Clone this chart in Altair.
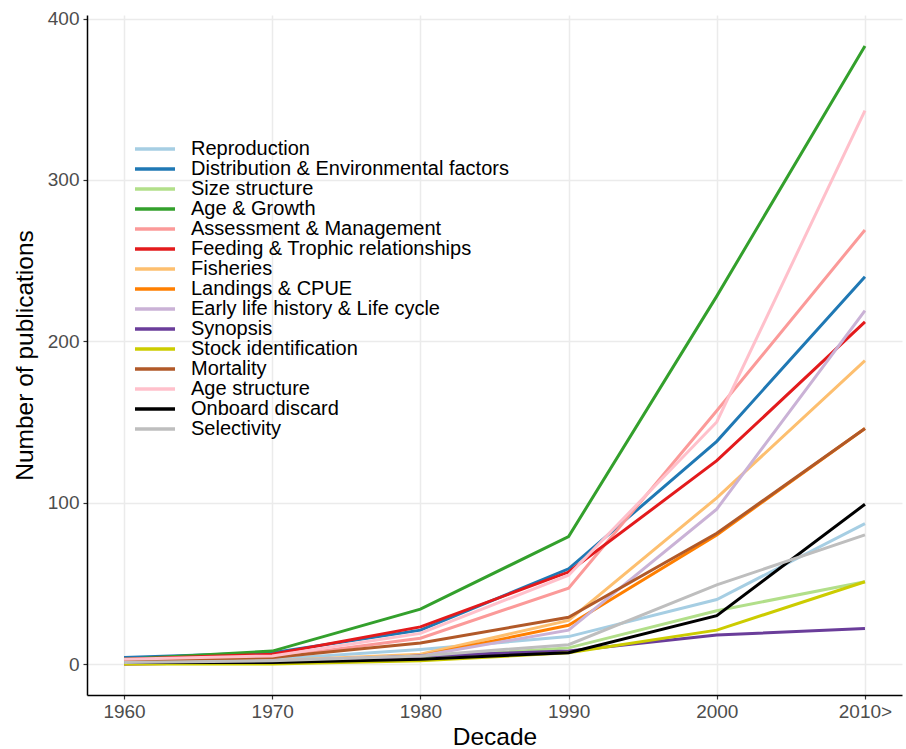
import altair as alt
import pandas as pd

# Publication counts per decade and research topic
decades = [1960, 1970, 1980, 1990, 2000, 2010]

topics = [
    "Reproduction",
    "Distribution & Environmental factors",
    "Size structure",
    "Age & Growth",
    "Assessment & Management",
    "Feeding & Trophic relationships",
    "Fisheries",
    "Landings & CPUE",
    "Early life history & Life cycle",
    "Synopsis",
    "Stock identification",
    "Mortality",
    "Age structure",
    "Onboard discard",
    "Selectivity",
]

reproduction = [2, 3, 9, 17, 40, 87]
distribution = [4, 7, 21, 59, 138, 240]
size_structure = [1, 1, 4, 10, 33, 51]
age_growth = [3, 8, 34, 79, 228, 383]
assessment = [2, 4, 16, 47, 157, 269]
feeding = [3, 6, 23, 57, 126, 212]
fisheries = [1, 2, 6, 27, 103, 188]
landings = [0, 1, 5, 24, 80, 146]
early_life = [1, 2, 5, 21, 96, 219]
synopsis = [0, 1, 5, 8, 18, 22]
stock_id = [0, 0, 2, 7, 21, 51]
mortality = [2, 4, 13, 29, 81, 146]
age_structure = [3, 5, 19, 55, 150, 343]
onboard_discard = [1, 1, 3, 7, 30, 99]
selectivity = [1, 2, 5, 12, 49, 80]

series = [
    reproduction, distribution, size_structure, age_growth, assessment,
    feeding, fisheries, landings, early_life, synopsis, stock_id,
    mortality, age_structure, onboard_discard, selectivity,
]

colors = [
    "#A6CEE3", "#1F78B4", "#B2DF8A", "#33A02C", "#FB9A99",
    "#E31A1C", "#FDBF6F", "#FF7F00", "#CAB2D6", "#6A3D9A",
    "#CCCC00", "#B15928", "#FFC0CB", "#000000", "#BEBEBE",
]

rows = []
for topic, values in zip(topics, series):
    for decade, v in zip(decades, values):
        rows.append({"Decade": decade, "Publications": v, "Topic": topic})
df = pd.DataFrame(rows)

font = "Liberation Sans"

chart = (
    alt.Chart(df)
    .mark_line(strokeWidth=3, strokeCap="butt", strokeJoin="miter")
    .encode(
        x=alt.X(
            "Decade:Q",
            scale=alt.Scale(domain=[1957.5, 2012.5], nice=False, zero=False),
            axis=alt.Axis(
                values=decades,
                format="d",
                labelExpr="datum.value == 2010 ? '2010>' : datum.label",
                title="Decade",
            ),
        ),
        y=alt.Y(
            "Publications:Q",
            scale=alt.Scale(domain=[-19.2, 402.2], nice=False, zero=False),
            axis=alt.Axis(values=[0, 100, 200, 300, 400], title="Number of publications"),
        ),
        color=alt.Color(
            "Topic:N",
            sort=topics,
            scale=alt.Scale(domain=topics, range=colors),
            legend=alt.Legend(
                title=None,
                orient="none",
                legendX=58,
                legendY=124,
                # wide flat line key: path spans 10 units, scaled by sqrt(size)/2
                symbolType="M-5,0H5",
                symbolSize=64,
                symbolStrokeWidth=3.3,
                symbolFillColor="transparent",
                labelFontSize=20,
                labelFont=font,
                labelColor="#000000",
                labelOffset=26,
                rowPadding=0,
                padding=0,
                labelLimit=600,
            ),
        ),
        detail="Topic:N",
    )
    .properties(
        width=815,
        height=680,
        autosize=alt.AutoSizeParams(type="none"),
        padding={"left": 87, "top": 15, "right": 4, "bottom": 54},
        background="white",
    )
    .configure_view(stroke=None)
    .configure_axis(
        grid=True,
        gridColor="#EBEBEB",
        gridWidth=1.5,
        domainColor="#000000",
        domainWidth=1.5,
        tickColor="#333333",
        tickSize=4,
        tickWidth=1.2,
        labelFont=font,
        labelFontSize=19,
        labelColor="#4D4D4D",
        titleFont=font,
        titleFontSize=24.5,
        titleFontWeight="normal",
        titleColor="#000000",
    )
    .configure_axisX(labelPadding=3, titlePadding=4)
    .configure_axisY(labelPadding=4, titlePadding=10)
)

chart.save("out.html", embed_options={"renderer": "svg", "actions": False})
